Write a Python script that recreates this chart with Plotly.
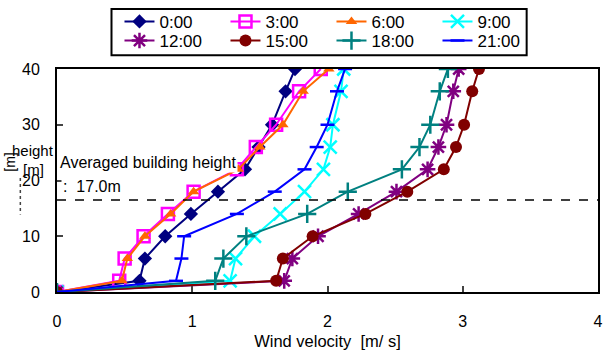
import plotly.graph_objects as go

heights = [0, 2, 6, 10, 14, 18, 22, 26, 30, 36, 40]
names = ["0:00", "3:00", "6:00", "9:00", "12:00", "15:00", "18:00", "21:00"]

v_0000 = [0, 0.61, 0.65, 0.80, 0.99, 1.19, 1.39, 1.49, 1.59, 1.69, 1.76]
v_0300 = [0, 0.46, 0.50, 0.64, 0.82, 1.01, 1.33, 1.47, 1.62, 1.79, 1.95]
v_0600 = [0, 0.48, 0.52, 0.65, 0.84, 1.01, 1.34, 1.50, 1.67, 1.82, 2.01]
v_0900 = [0, 1.28, 1.32, 1.46, 1.65, 1.83, 1.97, 2.02, 2.04, 2.10, 2.12]
v_1200 = [0, 1.68, 1.74, 1.93, 2.23, 2.51, 2.74, 2.82, 2.88, 2.93, 2.97]
v_1500 = [0, 1.62, 1.67, 1.89, 2.28, 2.59, 2.86, 2.95, 3.01, 3.07, 3.12]
v_1800 = [0, 1.17, 1.23, 1.40, 1.85, 2.15, 2.55, 2.68, 2.76, 2.83, 2.89]
v_2100 = [0, 0.88, 0.92, 0.94, 1.33, 1.61, 1.83, 1.92, 2.00, 2.07, 2.13]

series = [v_0000, v_0300, v_0600, v_0900, v_1200, v_1500, v_1800, v_2100]
colors = ["#000080", "#FF00FF", "#FF6600", "#00FFFF", "#800080", "#800000", "#008080", "#0000FF"]
symbols = ["diamond", "square-open", "triangle-up", "x-thin-open", "asterisk-open",
           "circle", "cross-thin-open", "line-ew-open"]
msizes = [11, 12, 10, 13, 13, 12, 13, 10]

building_h = 16.5
xticks = [0, 1, 2, 3, 4]
yticks = [0, 10, 20, 30, 40]

fig = go.Figure()
for i, (n, v) in enumerate(zip(names, series)):
    fig.add_trace(go.Scatter(
        x=v, y=heights, name=n, mode="lines+markers",
        line=dict(color=colors[i], width=2),
        marker=dict(symbol=symbols[i], size=msizes[i], color=colors[i],
                    line=dict(color=colors[i], width=2.5 if "open" in symbols[i] else 0)),
        legend="legend" if i < 4 else "legend2",
    ))

# dashed building-height line
fig.add_trace(go.Scatter(x=[0, 4], y=[building_h, building_h], mode="lines",
                         line=dict(color="black", width=1.6, dash="dash"),
                         showlegend=False, hoverinfo="skip"))

FONT = "Liberation Sans, Arial, sans-serif"


def px(xp):
    return (xp - 57) / 546


def py(yp):
    return (292 - yp) / 227


fig.update_layout(
    width=607, height=352,
    margin=dict(l=57, r=4, t=65, b=60),
    paper_bgcolor="white", plot_bgcolor="white",
    font=dict(family=FONT, size=16, color="black"),
    xaxis=dict(range=[0, 4], tickvals=xticks, ticks="inside", ticklen=6, tickwidth=2,
               showline=True, linewidth=2, linecolor="black", mirror=True,
               showgrid=False, zeroline=False, ticklabelstandoff=14,
               title=dict(text="Wind velocity  [m/ s]", font=dict(size=16.5), standoff=6)),
    yaxis=dict(range=[0, 40], tickvals=yticks, ticks="inside", ticklen=6, tickwidth=2,
               showline=True, linewidth=2, linecolor="black", mirror=True,
               showgrid=False, zeroline=False, ticklabelstandoff=12),
    legend=dict(orientation="h", x=0.1155, xanchor="left", y=py(17), yanchor="middle",
                entrywidth=61, entrywidthmode="pixels", font=dict(size=17),
                bgcolor="rgba(0,0,0,0)", borderwidth=0, tracegroupgap=0),
    legend2=dict(orientation="h", x=0.1155, xanchor="left", y=py(36.5), yanchor="middle",
                 entrywidth=61, entrywidthmode="pixels", font=dict(size=17),
                 bgcolor="rgba(0,0,0,0)", borderwidth=0, tracegroupgap=0),
    shapes=[dict(type="rect", xref="paper", yref="paper", x0=px(112), x1=px(531),
                 y0=py(51), y1=py(4), line=dict(color="black", width=2)),
            dict(type="line", xref="paper", yref="paper", x0=px(20), x1=px(20),
                 y0=py(176), y1=py(213), line=dict(color="#444", width=1.5, dash="dot"))],
    annotations=[
        dict(text="Averaged building height", xref="x", yref="y", x=0.005, y=23.2,
             xanchor="left", yanchor="middle", showarrow=False, bgcolor="white",
             font=dict(size=16)),
        dict(text=":  17.0m", xref="x", yref="y", x=0.03, y=18.9,
             xanchor="left", yanchor="middle", showarrow=False, bgcolor="white",
             font=dict(size=16)),
        dict(text="[m]", xref="paper", yref="paper", x=px(10), y=py(160),
             xanchor="center", yanchor="middle", showarrow=False, textangle=-90,
             font=dict(size=14)),
        dict(text="height", xref="paper", yref="paper", x=px(33), y=py(148),
             xanchor="center", yanchor="middle", showarrow=False, font=dict(size=15)),
        dict(text="[m]", xref="paper", yref="paper", x=px(33), y=py(167),
             xanchor="center", yanchor="middle", showarrow=False, font=dict(size=15)),
    ],
)

fig.write_html("out.html")
